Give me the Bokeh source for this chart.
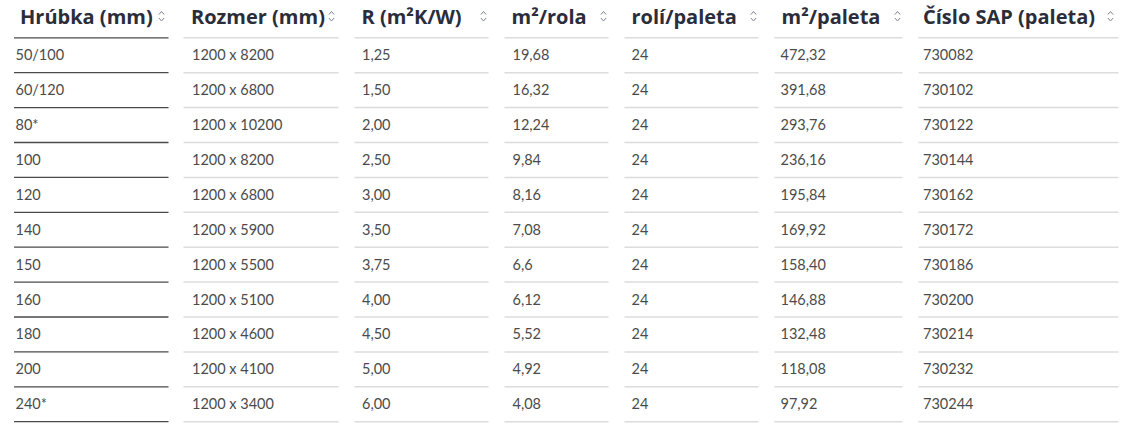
from bokeh.plotting import figure
from bokeh.models import ColumnDataSource, Range1d
from bokeh.embed import file_html
from bokeh.resources import INLINE
from bokeh.core.properties import value

# ---- data ----
headers = ["Hrúbka (mm)", "Rozmer (mm)", "R (m²K/W)", "m²/rola",
           "rolí/paleta", "m²/paleta", "Číslo SAP (paleta)"]
hrubka = ["50/100", "60/120", "80*", "100", "120", "140", "150", "160", "180", "200", "240*"]
rozmer = ["1200 x 8200", "1200 x 6800", "1200 x 10200", "1200 x 8200", "1200 x 6800",
          "1200 x 5900", "1200 x 5500", "1200 x 5100", "1200 x 4600", "1200 x 4100", "1200 x 3400"]
r_value = ["1,25", "1,50", "2,00", "2,50", "3,00", "3,50", "3,75", "4,00", "4,50", "5,00", "6,00"]
m2_rola = ["19,68", "16,32", "12,24", "9,84", "8,16", "7,08", "6,6", "6,12", "5,52", "4,92", "4,08"]
roli_paleta = ["24", "24", "24", "24", "24", "24", "24", "24", "24", "24", "24"]
m2_paleta = ["472,32", "391,68", "293,76", "236,16", "195,84", "169,92", "158,40",
             "146,88", "132,48", "118,08", "97,92"]
sap = ["730082", "730102", "730122", "730144", "730162", "730172", "730186",
       "730200", "730214", "730232", "730244"]

columns = [hrubka, rozmer, r_value, m2_rola, roli_paleta, m2_paleta, sap]

# ---- layout (pixel units of the page) ----
col_left = [13.5, 183, 354, 504, 624, 774, 918]
col_right = [168, 338, 488, 608, 758, 902, 1118]
body_x = [15, 191.5, 361.5, 512, 631, 780, 922.5]
head_x = [19.5, 190.5, 361, 511, 631, 781, 922.5]
icon_x = [161, 331, 483, 603, 753, 897, 1110]
header_y = 16
line0 = 37.3
row_h = 34.9

W, H = 1121, 430
p = figure(width=W, height=H, output_backend="svg", toolbar_location=None,
           x_range=Range1d(0, W), y_range=Range1d(H, 0),
           min_border=0, outline_line_color=None, background_fill_color="white",
           border_fill_color="white")
p.axis.visible = False
p.xgrid.visible = False
p.ygrid.visible = False

nrows = len(hrubka)

# separator lines
for ci in range(len(columns)):
    ys = [line0 + row_h * k for k in range(nrows + 1)]
    src = ColumnDataSource(dict(x0=[col_left[ci]] * len(ys), x1=[col_right[ci]] * len(ys), y=ys))
    p.segment(x0="x0", x1="x1", y0="y", y1="y", source=src,
              line_color="#4a4a4a" if ci == 0 else "#dcdcdc",
              line_width=1.3 if ci == 0 else 1.5)

# header text
hsrc = ColumnDataSource(dict(x=head_x, y=[header_y] * len(headers), t=headers))
p.text(x="x", y="y", text="t", source=hsrc, text_font=value("Open Sans"),
       text_font_style="bold", text_font_size="20px", text_color="#2b2d3b",
       text_baseline="middle", text_align="left")

# sort icons
xs, ys = [], []
for c in icon_x:
    xs.append([c - 2.6, c, c + 2.6]); ys.append([14, 11, 14])
    xs.append([c - 2.6, c, c + 2.6]); ys.append([17.5, 20.5, 17.5])
p.multi_line(xs=xs, ys=ys, line_color="#7d8290", line_width=1)

# body cells
bx, by, bt = [], [], []
for ci, col in enumerate(columns):
    for ri, v in enumerate(col):
        bx.append(body_x[ci])
        by.append(line0 + row_h * ri + row_h / 2 - 0.5)
        bt.append(v)
bsrc = ColumnDataSource(dict(x=bx, y=by, t=bt))
p.text(x="x", y="y", text="t", source=bsrc, text_font=value("Lato"),
       text_font_size="14.5px", text_color="#4b4b4b",
       text_baseline="middle", text_align="left")

open("out.html", "w").write(file_html(p, INLINE))
